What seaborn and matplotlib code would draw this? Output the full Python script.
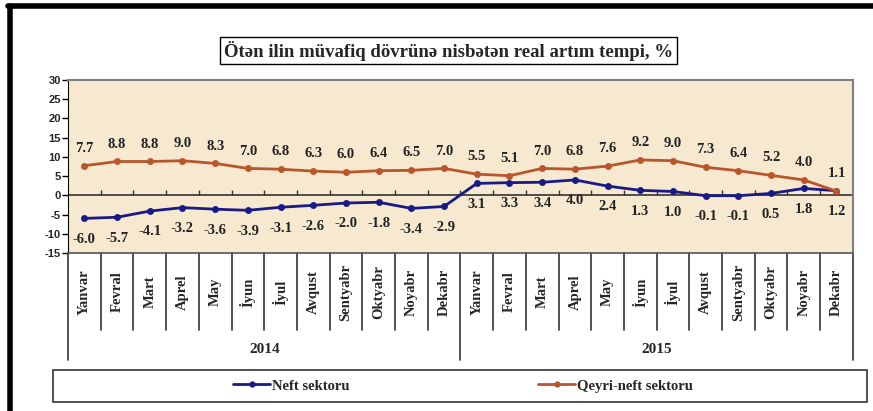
import numpy as np
import pandas as pd
import seaborn as sns
import matplotlib.pyplot as plt
from matplotlib.lines import Line2D
from matplotlib.patches import Rectangle

months = ['Yanvar', 'Fevral', 'Mart', 'Aprel', 'May', 'İyun', 'İyul',
          'Avqust', 'Sentyabr', 'Oktyabr', 'Noyabr', 'Dekabr']
years = ['2014', '2015']
neft = [-6.0, -5.7, -4.1, -3.2, -3.6, -3.9, -3.1, -2.6, -2.0, -1.8, -3.4, -2.9,
        3.1, 3.3, 3.4, 4.0, 2.4, 1.3, 1.0, -0.1, -0.1, 0.5, 1.8, 1.2]
qeyri = [7.7, 8.8, 8.8, 9.0, 8.3, 7.0, 6.8, 6.3, 6.0, 6.4, 6.5, 7.0,
         5.5, 5.1, 7.0, 6.8, 7.6, 9.2, 9.0, 7.3, 6.4, 5.2, 4.0, 1.1]
series_names = ['Neft sektoru', 'Qeyri-neft sektoru']
title = 'Ötən ilin müvafiq dövrünə nisbətən real artım tempi, %'

colors = {'Neft sektoru': '#1a1a86', 'Qeyri-neft sektoru': '#b9562c'}

n = len(neft)
df = pd.DataFrame({
    'pos': list(range(n)) * 2,
    'value': neft + qeyri,
    'sector': [series_names[0]] * n + [series_names[1]] * n,
})

sns.set_style('white')
plt.rcParams['font.family'] = ['Liberation Serif', 'DejaVu Serif']

fig = plt.figure(figsize=(8.73, 4.11), dpi=100)
ax = fig.add_axes([0.0779, 0.3844, 0.899, 0.421])
ax.set_facecolor('#f7e9d0')

sns.lineplot(data=df, x='pos', y='value', hue='sector', palette=colors,
             marker='o', markersize=5, markeredgewidth=0, linewidth=2,
             legend=False, ax=ax)

ax.set_xlim(-0.5, n - 0.5)
ax.set_ylim(-15, 30)
ax.set_yticks(np.arange(-15, 31, 5))
ax.set_yticklabels([str(v) for v in range(-15, 31, 5)],
                   fontfamily='Liberation Sans', fontweight='bold', fontsize=8)
ax.tick_params(axis='y', direction='out', length=4, width=1, color='black', pad=1, left=True)
ax.set_xticks([])
ax.set_xlabel('')
ax.set_ylabel('')
for s in ['top', 'right']:
    ax.spines[s].set_color('#808080')
    ax.spines[s].set_linewidth(1.5)
ax.spines['left'].set_color('black')
ax.spines['bottom'].set_color('#555555')
ax.spines['bottom'].set_linewidth(1.2)

# zero line with category ticks
ax.axhline(0, color='#333333', linewidth=1.2, zorder=1)
ax.vlines(np.arange(0.5, n - 0.5, 1), 0, 1.3, color='#333333', linewidth=1, zorder=1)

# data labels
for i, v in enumerate(qeyri):
    ax.annotate(f'{v:.1f}', (i, v), xytext=(0, 12.5), textcoords='offset points',
                ha='center', va='center', fontsize=10.5, fontweight='bold', color='#222222')
for i, v in enumerate(neft):
    ax.annotate(f'{v:.1f}', (i, v), xytext=(0, -15), textcoords='offset points',
                ha='center', va='center', fontsize=10.5, fontweight='bold', color='#222222')

# category table below the axis
trans = ax.get_xaxis_transform()
for k in range(n + 1):
    x = k - 0.5
    low = -0.618 if k % 12 == 0 else -0.445
    ax.add_line(Line2D([x, x], [0, low], transform=trans, color='#333333',
                       linewidth=1.2, clip_on=False))
for i in range(n):
    ax.text(i, -0.225, months[i % 12], transform=trans, rotation=90,
            ha='center', va='center', fontsize=10.5, fontweight='bold')
for j, y in enumerate(years):
    ax.text(j * 12 + 5.5, -0.56, y, transform=trans, ha='center', va='center',
            fontsize=11, fontweight='bold')

# title box
fig.text(0.514, 0.877, title, ha='center', va='center', fontsize=13.5,
         fontweight='bold', bbox=dict(boxstyle='square,pad=0.2', fc='white',
                                      ec='black', lw=1))

# legend box
fig.add_artist(Rectangle((53 / 873, 1 - 402 / 411), 814 / 873, 32 / 411,
                         transform=fig.transFigure, fill=False, ec='#333333', lw=1.2))
handles = [Line2D([], [], color=colors[s], marker='o', markersize=3.5, lw=2)
           for s in series_names]
fig.legend(handles, series_names, loc='center', bbox_to_anchor=(0.53, 1 - 386 / 411),
           ncol=2, frameon=False, handlelength=2.6, handletextpad=0.1,
           columnspacing=12.9, prop={'weight': 'bold', 'size': 10.5})

# outer frame
fig.add_artist(Line2D([8 / 873, 1], [1 - 6 / 411, 1 - 6 / 411], transform=fig.transFigure,
                      color='black', linewidth=4))
fig.add_artist(Line2D([10 / 873, 10 / 873], [0, 1 - 6 / 411], transform=fig.transFigure,
                      color='black', linewidth=4))

fig.savefig('out.png', dpi=100)
